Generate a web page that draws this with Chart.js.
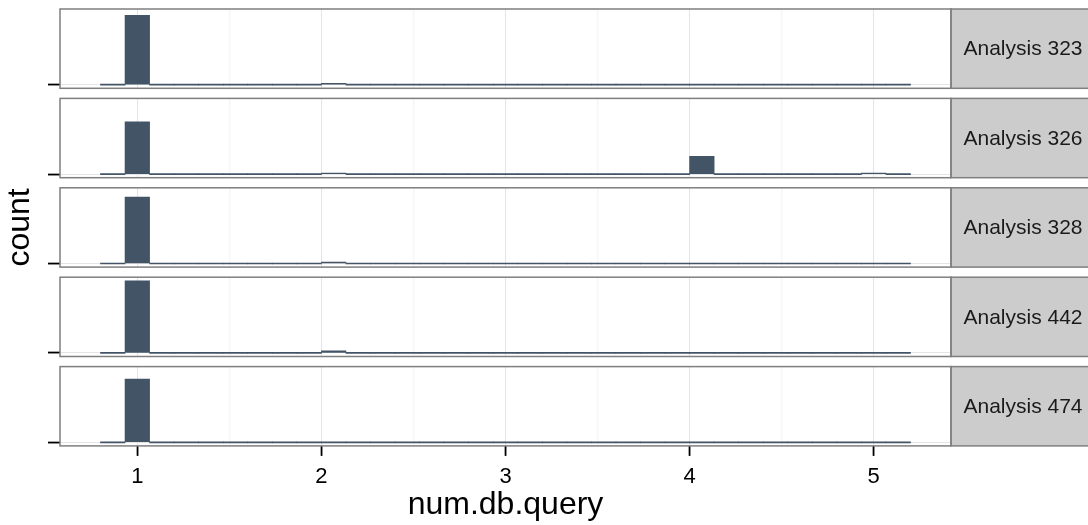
<!DOCTYPE html>
<html>
<head>
<meta charset="utf-8">
<script src="https://cdn.jsdelivr.net/npm/chart.js@4/dist/chart.umd.min.js"></script>
<style>
  html, body { margin: 0; padding: 0; background: #ffffff; }
  #wrap { position: relative; width: 1088px; height: 525px; overflow: hidden; }
  #wrap canvas { position: absolute; left: 0; top: 0; }
</style>
</head>
<body>
<div id="wrap"></div>
<script>
// Facet labels, one panel per analysis
const analyses = ['Analysis 323', 'Analysis 326', 'Analysis 328', 'Analysis 442', 'Analysis 474'];

// Observed num.db.query values and how often each occurs per analysis
const queryValues = [1, 2, 3, 4, 5];
const counts323 = [1405, 30, 0, 0, 0];
const counts326 = [1060, 20, 0, 360, 20];
const counts328 = [1345, 30, 0, 0, 0];
const counts442 = [1460, 40, 0, 0, 0];
const counts474 = [1280, 0, 0, 0, 0];

// Axis labelling
const xTickValues = [1, 2, 3, 4, 5];
const xMinorValues = [1.5, 2.5, 3.5, 4.5];
const xTitle = 'num.db.query';
const yTitle = 'count';

// Histogram binning: 30 bins across the 1..5 range, edges starting at 0.8
const binStart = 0.8;
const binWidth = 4 / 30;
const binCount = 33;

const allCounts = [counts323, counts326, counts328, counts442, counts474];

function toBins(counts) {
  const bins = [];
  for (let i = 0; i < binCount; i++) {
    bins.push({ x: binStart + (i + 0.5) * binWidth, y: 0 });
  }
  queryValues.forEach((v, k) => {
    const idx = Math.floor((v - binStart) / binWidth + 1e-6);
    bins[idx].y += counts[k];
  });
  return bins;
}

const yMax = Math.max(...allCounts.flat());
const xLo = binStart - 0.05 * binCount * binWidth;
const xHi = binStart + 1.05 * binCount * binWidth;

// Layout of the stacked panels
const W = 1088, H = 525;
const plotLeft = 60, stripWidth = 143, plotRight = 951;
const panelTop0 = 9, panelStep = 89.4, panelHeight = 79.3;

const barColor = '#435466';
const FONT = '"Liberation Sans", Arial, Helvetica, sans-serif';
Chart.defaults.font.family = FONT;

const isMajor = c => !!(c && c.tick && Number.isInteger(c.tick.value));

function panelFrame(label) {
  return {
    id: 'panelFrame',
    afterDraw(chart) {
      const { ctx, chartArea: a } = chart;
      const h = a.bottom - a.top;
      ctx.save();
      ctx.fillStyle = '#CCCCCC';
      ctx.fillRect(a.right, a.top, stripWidth, h);
      ctx.strokeStyle = '#7F7F7F';
      ctx.lineWidth = 1.5;
      ctx.strokeRect(a.right, a.top, stripWidth, h);
      ctx.strokeRect(a.left, a.top, a.right - a.left, h);
      ctx.fillStyle = '#1A1A1A';
      ctx.font = '21px ' + FONT;
      ctx.textAlign = 'center';
      ctx.textBaseline = 'middle';
      ctx.fillText(label, a.right + 72, a.top + h / 2 + 1);
      ctx.restore();
    }
  };
}

const wrap = document.getElementById('wrap');

allCounts.forEach((counts, i) => {
  const canvas = document.createElement('canvas');
  canvas.width = W;
  canvas.height = H;
  wrap.appendChild(canvas);

  const isLast = i === allCounts.length - 1;
  const top = panelTop0 + i * panelStep;
  const bottom = top + panelHeight;

  new Chart(canvas, {
    type: 'bar',
    data: {
      datasets: [{
        data: toBins(counts),
        backgroundColor: barColor,
        borderWidth: 0,
        minBarLength: 1,
        barPercentage: 1,
        categoryPercentage: 1
      }]
    },
    options: {
      responsive: false,
      animation: false,
      devicePixelRatio: 1,
      layout: { padding: { left: 0, right: W - plotRight, top: top, bottom: isLast ? 0 : H - bottom } },
      plugins: { legend: { display: false }, tooltip: { enabled: false } },
      scales: {
        x: {
          type: 'linear',
          min: xLo,
          max: xHi,
          offset: false,
          afterBuildTicks: s => {
            s.ticks = [...xTickValues, ...xMinorValues].sort((a, b) => a - b).map(v => ({ value: v }));
          },
          afterFit: s => { s.height = isLast ? H - bottom : 0; },
          border: { display: false },
          grid: {
            offset: false,
            color: c => isMajor(c) ? '#E5E5E5' : '#F5F5F5',
            lineWidth: c => isMajor(c) ? 1.1 : 1.3,
            drawTicks: isLast,
            tickLength: 10,
            tickColor: c => isMajor(c) ? '#000000' : 'rgba(0,0,0,0)',
            tickWidth: 1.8
          },
          ticks: {
            display: isLast,
            autoSkip: false,
            maxRotation: 0,
            padding: 8,
            color: '#000000',
            font: { size: 22 },
            callback: v => Number.isInteger(v) ? String(v) : ''
          },
          title: {
            display: isLast,
            text: xTitle,
            color: '#000000',
            font: { size: 32 },
            padding: { top: 0, bottom: 1 }
          }
        },
        y: {
          min: -0.05 * yMax,
          max: 1.05 * yMax,
          afterBuildTicks: s => { s.ticks = [{ value: 0 }]; },
          afterFit: s => { s.width = plotLeft; },
          border: { display: false },
          grid: {
            color: '#E5E5E5',
            lineWidth: 1.1,
            tickColor: '#000000',
            tickWidth: 1.8,
            tickLength: 12
          },
          ticks: { display: false },
          title: {
            display: i === 2,
            text: yTitle,
            color: '#000000',
            font: { size: 32 },
            padding: { top: 1, bottom: 0 }
          }
        }
      }
    },
    plugins: [panelFrame(analyses[i])]
  });
});
</script>
</body>
</html>
